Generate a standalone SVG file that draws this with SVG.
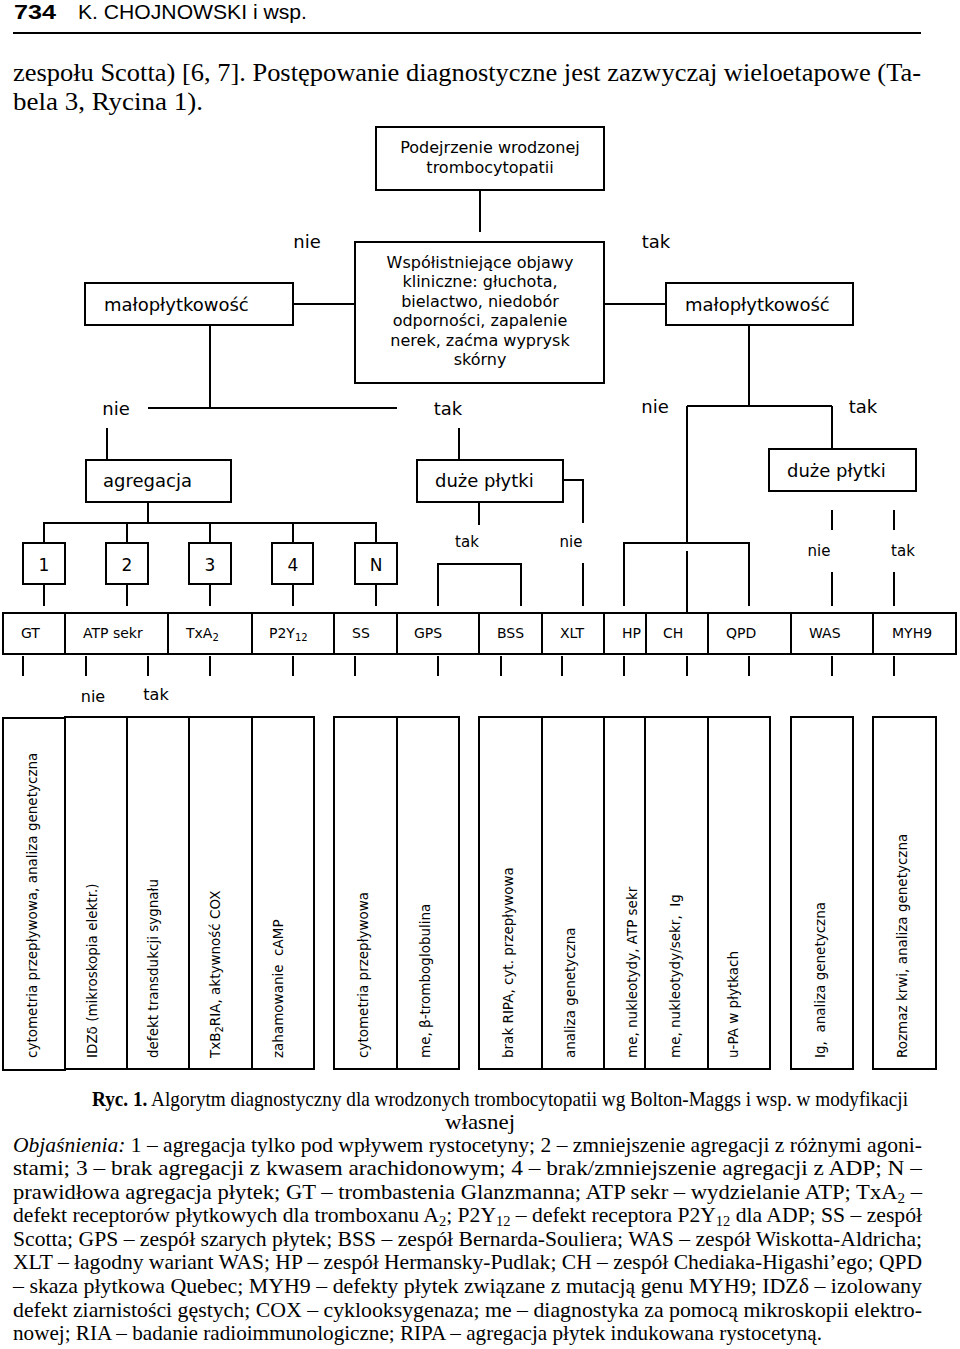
<svg xmlns="http://www.w3.org/2000/svg" width="960" height="1349" viewBox="0 0 960 1349">
<style>
.box{fill:#fff;stroke:#000;stroke-width:2}
.ln{fill:none;stroke:#000;stroke-width:2}
.s{font-family:"DejaVu Sans",Verdana,sans-serif;fill:#000}
.b18{font-size:18px}
.b16{font-size:16px}
.b15{font-size:15px}
.b14{font-size:14px}
.v{font-family:"DejaVu Sans",Verdana,sans-serif;font-size:13.5px;fill:#000}
.c{text-anchor:middle}
.sr{font-family:"Liberation Serif","Times New Roman",serif;fill:#000}
.cap{font-size:21px}
</style>
<rect width="960" height="1349" fill="#fff"/>
<g id="header">
<text x="14" y="19" class="s" font-family="Liberation Sans" font-weight="bold" font-size="21" textLength="42" lengthAdjust="spacingAndGlyphs" style="font-family:'Liberation Sans',Arial,sans-serif">734</text>
<text x="78" y="19" style="font-family:'Liberation Sans',Arial,sans-serif" font-size="20" textLength="229" lengthAdjust="spacingAndGlyphs">K. CHOJNOWSKI  i  wsp.</text>
<line x1="13" y1="33" x2="921" y2="33" stroke="#000" stroke-width="2"/>
<text x="13" y="81" class="sr" font-size="25" textLength="908" lengthAdjust="spacingAndGlyphs">zespołu Scotta) [6, 7]. Postępowanie diagnostyczne jest zazwyczaj wieloetapowe (Ta-</text>
<text x="13" y="110" class="sr" font-size="25" textLength="190" lengthAdjust="spacingAndGlyphs">bela 3, Rycina 1).</text>
</g>
<g id="connectors" class="ln">
<path d="M480,190V232"/>
<path d="M293,304H355"/>
<path d="M604,304H666"/>
<path d="M210,325V408"/>
<path d="M148,408H397"/>
<path d="M107,428V460"/>
<path d="M459,428V460"/>
<path d="M749,325V406"/>
<path d="M687,406H832"/>
<path d="M687,406V543"/>
<path d="M832,406V449"/>
<path d="M624,606V543H749V606"/>
<path d="M687,551V613"/>
<path d="M148,502V523"/>
<path d="M44,543V523H376V543"/>
<path d="M127,523V543M210,523V543M293,523V543"/>
<path d="M44,584V606M127,584V606M210,584V606M293,584V606M376,584V606"/>
<path d="M479,502V525"/>
<path d="M438,606V564H521V606"/>
<path d="M563,480H583V523"/>
<path d="M583,563V606"/>
<path d="M832,510V530M832,572V606M894,510V530M894,572V606"/>
<path d="M23,656V676M86,656V676M148,656V676M210,656V676M293,656V676M355,656V676M438,656V676M501,656V676M562,656V676M624,656V676M687,656V676M749,656V676M832,656V676M894,656V676"/>
</g>
<g id="labels" class="s">
<text x="307" y="248" class="b18 c">nie</text>
<text x="656" y="248" class="b18 c">tak</text>
<text x="116" y="415" class="b18 c">nie</text>
<text x="448" y="415" class="b18 c">tak</text>
<text x="655" y="413" class="b18 c">nie</text>
<text x="863" y="413" class="b18 c">tak</text>
<text x="467" y="547" class="b15 c">tak</text>
<text x="571" y="547" class="b15 c">nie</text>
<text x="819" y="556" class="b15 c">nie</text>
<text x="903" y="556" class="b15 c">tak</text>
<text x="93" y="702" class="b16 c">nie</text>
<text x="156" y="700" class="b16 c">tak</text>
</g>
<g id="n-podejrzenie">
<rect x="376" y="127" width="228" height="63" class="box"/>
<text x="490" y="153" class="s b16 c">Podejrzenie wrodzonej</text>
<text x="490" y="173" class="s b16 c">trombocytopatii</text>
</g>
<g id="n-objawy">
<rect x="355" y="242" width="249" height="141" class="box"/>
<text class="s b16 c"><tspan x="480" y="268">Współistniejące objawy</tspan><tspan x="480" y="287">kliniczne: głuchota,</tspan><tspan x="480" y="307">bielactwo, niedobór</tspan><tspan x="480" y="326">odporności, zapalenie</tspan><tspan x="480" y="346">nerek, zaćma wyprysk</tspan><tspan x="480" y="365">skórny</tspan></text>
</g>
<g id="n-malo-l">
<rect x="85" y="283" width="208" height="42" class="box"/>
<text x="104" y="311" class="s b18">małopłytkowość</text>
</g>
<g id="n-malo-r">
<rect x="666" y="283" width="187" height="42" class="box"/>
<text x="685" y="311" class="s b18">małopłytkowość</text>
</g>
<g id="n-agregacja">
<rect x="86" y="460" width="145" height="42" class="box"/>
<text x="103" y="487" class="s b18">agregacja</text>
</g>
<g id="n-duze-l">
<rect x="417" y="460" width="146" height="42" class="box"/>
<text x="435" y="487" class="s b18">duże płytki</text>
</g>
<g id="n-duze-r">
<rect x="769" y="449" width="147" height="42" class="box"/>
<text x="787" y="477" class="s b18">duże płytki</text>
</g>
<g id="n-agg-types" class="s">
<rect x="23" y="543" width="42" height="41" class="box"/><text x="44" y="571" class="c" font-size="17">1</text>
<rect x="106" y="543" width="42" height="41" class="box"/><text x="127" y="571" class="c" font-size="17">2</text>
<rect x="189" y="543" width="42" height="41" class="box"/><text x="210" y="571" class="c" font-size="17">3</text>
<rect x="272" y="543" width="41" height="41" class="box"/><text x="293" y="571" class="c" font-size="17">4</text>
<rect x="355" y="543" width="42" height="41" class="box"/><text x="376" y="571" class="c" font-size="17">N</text>
</g>
<g id="n-diseases" class="s b14">
<rect x="3" y="613" width="62" height="41" class="box"/><text x="21" y="638">GT</text>
<rect x="65" y="613" width="103" height="41" class="box"/><text x="83" y="638">ATP sekr</text>
<rect x="168" y="613" width="84" height="41" class="box"/><text x="186" y="638">TxA<tspan font-size="10" dy="3">2</tspan></text>
<rect x="252" y="613" width="82" height="41" class="box"/><text x="269" y="638">P2Y<tspan font-size="10" dy="3">12</tspan></text>
<rect x="334" y="613" width="63" height="41" class="box"/><text x="352" y="638">SS</text>
<rect x="397" y="613" width="82" height="41" class="box"/><text x="414" y="638">GPS</text>
<rect x="479" y="613" width="63" height="41" class="box"/><text x="497" y="638">BSS</text>
<rect x="542" y="613" width="62" height="41" class="box"/><text x="560" y="638">XLT</text>
<rect x="604" y="613" width="42" height="41" class="box"/><text x="622" y="638">HP</text>
<rect x="646" y="613" width="62" height="41" class="box"/><text x="663" y="638">CH</text>
<rect x="708" y="613" width="83" height="41" class="box"/><text x="726" y="638">QPD</text>
<rect x="791" y="613" width="82" height="41" class="box"/><text x="809" y="638">WAS</text>
<rect x="873" y="613" width="83" height="41" class="box"/><text x="892" y="638">MYH9</text>
</g>
<g id="n-tests">
<rect x="3" y="718" width="62" height="352" class="box"/>
<rect x="65" y="717" width="62" height="352" class="box"/>
<rect x="127" y="717" width="62" height="352" class="box"/>
<rect x="189" y="717" width="63" height="352" class="box"/>
<rect x="252" y="717" width="62" height="352" class="box"/>
<rect x="334" y="717" width="63" height="352" class="box"/>
<rect x="397" y="717" width="62" height="352" class="box"/>
<rect x="479" y="717" width="63" height="352" class="box"/>
<rect x="542" y="717" width="62" height="352" class="box"/>
<rect x="604" y="717" width="41" height="352" class="box"/>
<rect x="645" y="717" width="63" height="352" class="box"/>
<rect x="708" y="717" width="62" height="352" class="box"/>
<rect x="791" y="717" width="62" height="352" class="box"/>
<rect x="873" y="717" width="63" height="352" class="box"/>
<text class="v" transform="translate(37,1058) rotate(-90)">cytometria przepływowa, analiza genetyczna</text>
<text class="v" transform="translate(97,1058) rotate(-90)">IDZδ (mikroskopia elektr.)</text>
<text class="v" transform="translate(158,1058) rotate(-90)">defekt transdukcji sygnału</text>
<text class="v" transform="translate(220,1058) rotate(-90)">TxB<tspan font-size="10" dy="3">2</tspan><tspan dy="-3">RIA, aktywność COX</tspan></text>
<text class="v" transform="translate(283,1058) rotate(-90)" xml:space="preserve">zahamowanie  cAMP</text>
<text class="v" transform="translate(368,1058) rotate(-90)">cytometria przepływowa</text>
<text class="v" transform="translate(430,1058) rotate(-90)">me, β-tromboglobulina</text>
<text class="v" transform="translate(513,1058) rotate(-90)">brak RIPA, cyt. przepływowa</text>
<text class="v" transform="translate(575,1058) rotate(-90)">analiza genetyczna</text>
<text class="v" transform="translate(637,1058) rotate(-90)">me, nukleotydy, ATP sekr</text>
<text class="v" transform="translate(680,1058) rotate(-90)" xml:space="preserve">me, nukleotydy/sekr,  Ig</text>
<text class="v" transform="translate(738,1058) rotate(-90)">u-PA w płytkach</text>
<text class="v" transform="translate(825,1058) rotate(-90)" xml:space="preserve">Ig,  analiza genetyczna</text>
<text class="v" transform="translate(907,1058) rotate(-90)">Rozmaz krwi, analiza genetyczna</text>
</g>
<g id="caption" class="sr cap">
<text x="92" y="1106" textLength="816" lengthAdjust="spacingAndGlyphs"><tspan font-weight="bold">Ryc. 1.</tspan> Algorytm diagnostyczny dla wrodzonych trombocytopatii wg Bolton-Maggs i wsp. w modyfikacji</text>
<text x="480" y="1129" text-anchor="middle" textLength="70" lengthAdjust="spacingAndGlyphs">własnej</text>
<text x="13" y="1152" textLength="909" lengthAdjust="spacingAndGlyphs"><tspan font-style="italic">Objaśnienia:</tspan> 1 – agregacja tylko pod wpływem rystocetyny; 2 – zmniejszenie agregacji z różnymi agoni-</text>
<text x="13" y="1175" textLength="909" lengthAdjust="spacingAndGlyphs">stami; 3 – brak agregacji z kwasem arachidonowym; 4 – brak/zmniejszenie agregacji z ADP; N –</text>
<text x="13" y="1199" textLength="909" lengthAdjust="spacingAndGlyphs">prawidłowa agregacja płytek; GT – trombastenia Glanzmanna; ATP sekr – wydzielanie ATP; TxA<tspan font-size="14" dy="4">2</tspan><tspan dy="-4"> –</tspan></text>
<text x="13" y="1222" textLength="909" lengthAdjust="spacingAndGlyphs">defekt receptorów płytkowych dla tromboxanu A<tspan font-size="14" dy="4">2</tspan><tspan dy="-4">; P2Y</tspan><tspan font-size="14" dy="4">12</tspan><tspan dy="-4"> – defekt receptora P2Y</tspan><tspan font-size="14" dy="4">12</tspan><tspan dy="-4"> dla ADP; SS – zespół</tspan></text>
<text x="13" y="1246" textLength="909" lengthAdjust="spacingAndGlyphs">Scotta; GPS – zespół szarych płytek; BSS – zespół Bernarda-Souliera; WAS – zespół Wiskotta-Aldricha;</text>
<text x="13" y="1269" textLength="909" lengthAdjust="spacingAndGlyphs">XLT – łagodny wariant WAS; HP – zespół Hermansky-Pudlak; CH – zespół Chediaka-Higashi’ego; QPD</text>
<text x="13" y="1293" textLength="909" lengthAdjust="spacingAndGlyphs">– skaza płytkowa Quebec; MYH9 – defekty płytek związane z mutacją genu MYH9; IDZδ – izolowany</text>
<text x="13" y="1317" textLength="909" lengthAdjust="spacingAndGlyphs">defekt ziarnistości gęstych; COX – cyklooksygenaza; me – diagnostyka za pomocą mikroskopii elektro-</text>
<text x="13" y="1340" textLength="809" lengthAdjust="spacingAndGlyphs">nowej; RIA – badanie radioimmunologiczne; RIPA – agregacja płytek indukowana rystocetyną.</text>
</g>
</svg>
